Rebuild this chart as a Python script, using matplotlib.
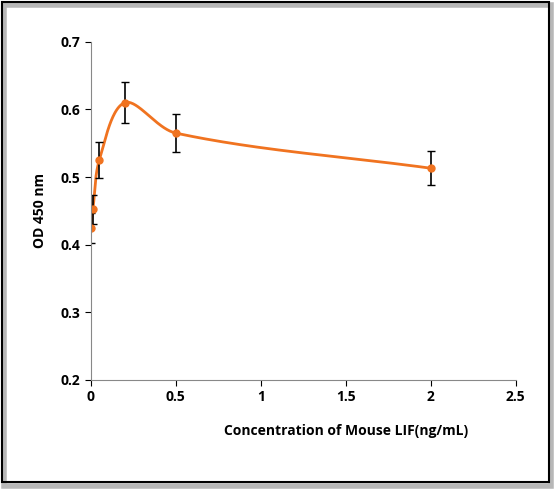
import matplotlib
matplotlib.use("Agg")
import matplotlib.pyplot as plt
import numpy as np
from matplotlib.patches import Rectangle

plt.rcParams['font.family'] = ['Open Sans', 'DejaVu Sans']

conc = [0.0, 0.0125, 0.05, 0.2, 0.5, 2.0]
od = [0.425, 0.452, 0.525, 0.610, 0.565, 0.513]
err = [0.022, 0.022, 0.027, 0.030, 0.028, 0.025]

def smooth(x, y, n=60):
    # non-uniform Catmull-Rom in normalized display coordinates
    X = np.array(x) / 2.5 * 425.0
    Y = (np.array(y) - 0.2) / 0.5 * 338.0
    P = np.stack([X, Y], 1)
    d = np.linalg.norm(np.diff(P, axis=0), axis=1)
    k = len(P)
    T = np.zeros_like(P)
    for i in range(k):
        if i == 0:
            T[i] = P[1] - P[0]
        elif i == k - 1:
            T[i] = P[-1] - P[-2]
        else:
            T[i] = (P[i+1] - P[i-1]) / (d[i-1] + d[i])
    out = []
    for i in range(k - 1):
        if 0 < i:
            m1 = T[i] * d[i]
        else:
            m1 = T[i]
        if i + 1 < k - 1:
            m2 = T[i+1] * d[i]
        else:
            m2 = T[i+1]
        s = np.linspace(0, 1, n)[:, None]
        h00 = 2*s**3-3*s**2+1; h10 = s**3-2*s**2+s; h01 = -2*s**3+3*s**2; h11 = s**3-s**2
        out.append(h00*P[i] + h10*m1 + h01*P[i+1] + h11*m2)
    Q = np.concatenate(out)
    return Q[:, 0] / 425.0 * 2.5, Q[:, 1] / 338.0 * 0.5 + 0.2

fig = plt.figure(figsize=(5.57, 4.92), dpi=100)
fig.patches.append(Rectangle((0.008, 0.012), 0.982, 0.978, transform=fig.transFigure,
                             fill=False, edgecolor='#888888', linewidth=4, alpha=0.6))
fig.patches.append(Rectangle((0.004, 0.02), 0.982, 0.975, transform=fig.transFigure,
                             fill=False, edgecolor='black', linewidth=1.5))
ax = fig.add_axes([0.163, 0.228, 0.763, 0.687])
sx, sy = smooth(conc, od)
ax.plot(sx, sy, color='#F07320', lw=2)
ax.errorbar(conc, od, yerr=err, fmt='o', color='#F07320', ms=5, ecolor='black',
            elinewidth=1.2, capsize=3)
ax.set_xlim(0, 2.5); ax.set_ylim(0.2, 0.7)
ax.set_xticks([0, 0.5, 1, 1.5, 2, 2.5]); ax.set_xticklabels(['0','0.5','1','1.5','2','2.5'])
ax.set_yticks([0.2,0.3,0.4,0.5,0.6,0.7])
for s in ['top','right']: ax.spines[s].set_visible(False)
for s in ['left','bottom']: ax.spines[s].set_color('#888888')
ax.tick_params(colors='black', labelsize=10, length=4)
for lab in ax.get_xticklabels()+ax.get_yticklabels(): lab.set_fontweight('bold')
ax.set_xlabel('Concentration of Mouse LIF(ng/mL)', fontweight='bold', fontsize=10, labelpad=14, x=0.6)
ax.set_ylabel('OD 450 nm', fontweight='bold', fontsize=10, labelpad=10)
fig.savefig('out.png', dpi=100)
